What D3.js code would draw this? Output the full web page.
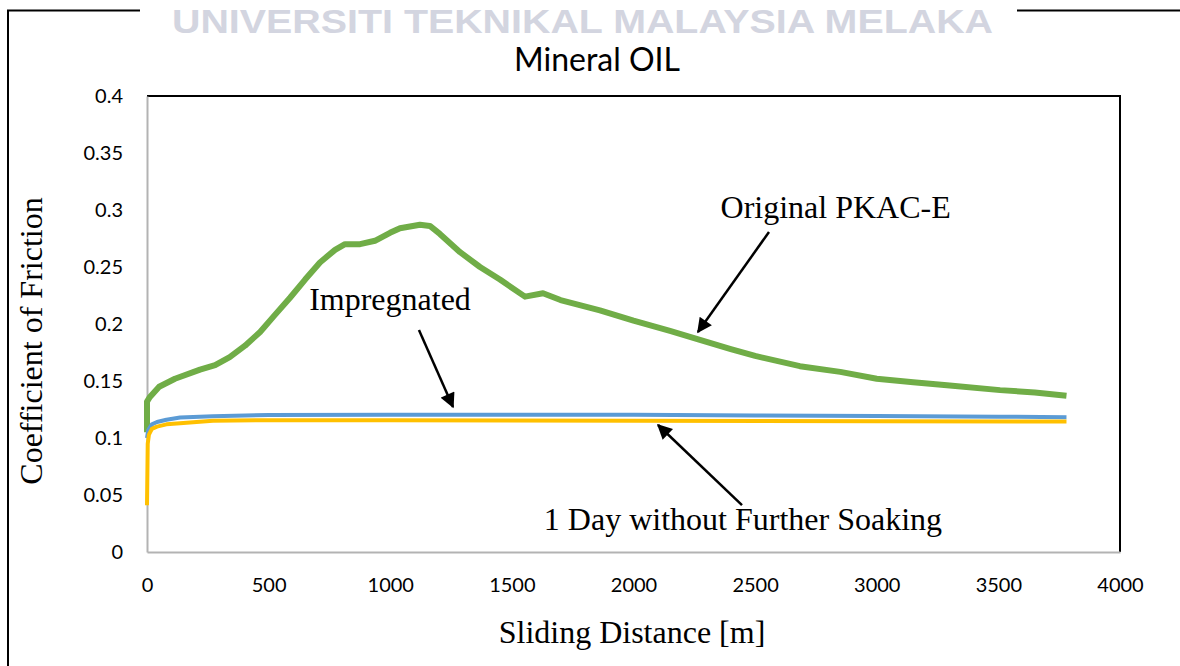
<!DOCTYPE html>
<html>
<head>
<meta charset="utf-8">
<script src="https://cdn.jsdelivr.net/npm/d3@7"></script>
<style>
  body { margin: 0; background: #fff; }
  svg { display: block; }
</style>
</head>
<body>
<div id="chart"></div>
<script>
const W = 1180, H = 666;
const margin = {top: 96, right: 60, bottom: 114, left: 147};
const width = W - margin.left - margin.right;   // 973
const height = H - margin.top - margin.bottom;  // 456

// ---- data ----
const yTicks = [0, 0.05, 0.1, 0.15, 0.2, 0.25, 0.3, 0.35, 0.4];
const xTicks = [0, 500, 1000, 1500, 2000, 2500, 3000, 3500, 4000];

// Original PKAC-E
const greenX = [0, 0, 12, 50, 115, 218, 280, 340, 403, 465, 526, 588, 650, 711, 773, 814, 876, 937, 999, 1040, 1122, 1163, 1204, 1287, 1369, 1451, 1554, 1628, 1700, 1862, 2000, 2150, 2273, 2400, 2500, 2684, 2850, 3000, 3150, 3300, 3507, 3650, 3780];
const greenY = [0.105, 0.132, 0.136, 0.145, 0.152, 0.160, 0.164, 0.171, 0.181, 0.193, 0.208, 0.223, 0.239, 0.254, 0.265, 0.270, 0.270, 0.273, 0.280, 0.284, 0.287, 0.286, 0.279, 0.263, 0.250, 0.239, 0.224, 0.227, 0.221, 0.212, 0.203, 0.194, 0.186, 0.178, 0.172, 0.163, 0.158, 0.152, 0.149, 0.146, 0.142, 0.140, 0.137];

// Impregnated
const blueX = [0, 5, 20, 41, 80, 136, 271, 500, 1000, 1500, 2000, 2500, 3000, 3500, 3780];
const blueY = [0.100, 0.107, 0.112, 0.114, 0.116, 0.118, 0.119, 0.1202, 0.1205, 0.1205, 0.1203, 0.1198, 0.1192, 0.1187, 0.1183];

// 1 Day without Further Soaking
const yellowX = [0, 3, 8, 20, 41, 80, 136, 271, 500, 1000, 2000, 3000, 3780];
const yellowY = [0.041, 0.095, 0.103, 0.108, 0.110, 0.112, 0.113, 0.1152, 0.1156, 0.1155, 0.1152, 0.1148, 0.1145];

// annotations: label position + arrow tail/tip, in data units
const notes = [
  {text: "Original PKAC-E", lx: 2831, ly: 0.293, x1: 2557, y1: 0.2807, x2: 2265, y2: 0.193},
  {text: "Impregnated", lx: 999, ly: 0.2123, x1: 1118, y1: 0.1947, x2: 1258, y2: 0.1272},
  {text: "1 Day without Further Soaking", lx: 2450, ly: 0.0193, x1: 2446, y1: 0.0412, x2: 2101, y2: 0.1114}
];

const svg = d3.select("#chart").append("svg")
  .attr("width", W)
  .attr("height", H);

// outer frame (runs off right and bottom)
svg.append("rect")
  .attr("x", 8).attr("y", 10.5)
  .attr("width", W + 20).attr("height", H + 20)
  .attr("fill", "none")
  .attr("stroke", "#000")
  .attr("stroke-width", 2);

// watermark
svg.append("rect")
  .attr("x", 140).attr("y", 0)
  .attr("width", 877).attr("height", 44)
  .attr("fill", "#fff");
svg.append("text")
  .attr("x", 172).attr("y", 33)
  .attr("textLength", 821)
  .attr("lengthAdjust", "spacingAndGlyphs")
  .style("font-family", "'Liberation Sans Narrow', 'Liberation Sans', Arial, sans-serif")
  .style("font-size", "33px")
  .style("font-weight", "bold")
  .attr("fill", "#d3d5e0")
  .text("UNIVERSITI TEKNIKAL MALAYSIA MELAKA");

// title
svg.append("text")
  .attr("x", 597).attr("y", 71)
  .attr("text-anchor", "middle")
  .style("font-family", "Lato, 'Open Sans', sans-serif")
  .style("font-size", "32px")
  .attr("fill", "#000")
  .text("Mineral OIL");

const g = svg.append("g")
  .attr("transform", "translate(" + margin.left + "," + margin.top + ")");

const x = d3.scaleLinear().domain([0, 4000]).range([0, width]);
const y = d3.scaleLinear().domain([0, 0.4]).range([height, 0]);

// top + right black border of plot area
g.append("path")
  .attr("d", "M0,0H" + width + "V" + height)
  .attr("fill", "none")
  .attr("stroke", "#000")
  .attr("stroke-width", 2);

const tickFont = g => g.selectAll("text")
  .style("font-family", "Lato, 'Open Sans', sans-serif")
  .style("font-size", "20px")
  .attr("fill", "#000");

g.append("g")
  .call(d3.axisLeft(y).tickValues(yTicks).tickSize(0).tickPadding(24).tickFormat(d3.format("")))
  .call(tickFont)
  .call(a => a.select(".domain").attr("stroke", "#b3b3b3").attr("stroke-width", 2));

g.append("g")
  .attr("transform", "translate(0," + height + ")")
  .call(d3.axisBottom(x).tickValues(xTicks).tickSize(0).tickPadding(26).tickFormat(d3.format("")))
  .call(tickFont)
  .call(a => a.select(".domain").attr("stroke", "#b3b3b3").attr("stroke-width", 2));

// series
const line = d3.line()
  .x(d => x(d[0]))
  .y(d => y(d[1]));

const series = [
  {xs: greenX, ys: greenY, color: "#70ad47", w: 6},
  {xs: blueX, ys: blueY, color: "#5b9bd5", w: 4},
  {xs: yellowX, ys: yellowY, color: "#ffc000", w: 4}
];

g.selectAll("path.series")
  .data(series)
  .join("path")
  .attr("class", "series")
  .attr("d", s => line(s.xs.map((v, i) => [v, s.ys[i]])))
  .attr("fill", "none")
  .attr("stroke", s => s.color)
  .attr("stroke-width", s => s.w)
  .attr("stroke-linejoin", "round");

// arrows + labels
svg.append("defs").append("marker")
  .attr("id", "head")
  .attr("viewBox", "0 0 10 10")
  .attr("refX", 9).attr("refY", 5)
  .attr("markerWidth", 6.5).attr("markerHeight", 6)
  .attr("markerUnits", "strokeWidth")
  .attr("orient", "auto")
  .append("path")
  .attr("d", "M0,0L10,5L0,10z")
  .attr("fill", "#000");

g.selectAll("line.arrow")
  .data(notes)
  .join("line")
  .attr("class", "arrow")
  .attr("x1", d => x(d.x1)).attr("y1", d => y(d.y1))
  .attr("x2", d => x(d.x2)).attr("y2", d => y(d.y2))
  .attr("stroke", "#000")
  .attr("stroke-width", 2.5)
  .attr("marker-end", "url(#head)");

g.selectAll("text.note")
  .data(notes)
  .join("text")
  .attr("class", "note")
  .attr("x", d => x(d.lx)).attr("y", d => y(d.ly))
  .attr("text-anchor", "middle")
  .style("font-family", "'Liberation Serif', 'Times New Roman', serif")
  .style("font-size", "32px")
  .attr("fill", "#000")
  .text(d => d.text);

// axis titles
svg.append("text")
  .attr("x", 632).attr("y", 643)
  .attr("text-anchor", "middle")
  .style("font-family", "'Liberation Serif', 'Times New Roman', serif")
  .style("font-size", "32px")
  .text("Sliding Distance [m]");

svg.append("text")
  .attr("transform", "translate(42,341)rotate(-90)")
  .attr("text-anchor", "middle")
  .style("font-family", "'Liberation Serif', 'Times New Roman', serif")
  .style("font-size", "32px")
  .text("Coefficient of Friction");
</script>
</body>
</html>
